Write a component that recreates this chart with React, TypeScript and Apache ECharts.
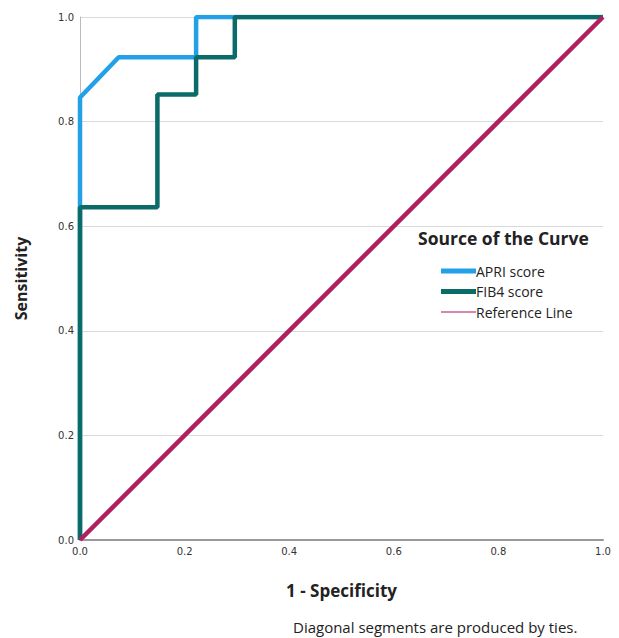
import React, { useEffect, useRef } from "react";
import * as echarts from "echarts";

const apriPoints: [number, number][] = [
  [0, 0], [0, 0.846], [0.074, 0.923], [0.222, 0.923], [0.222, 1.0], [1.0, 1.0],
];
const fib4Points: [number, number][] = [
  [0, 0], [0, 0.636], [0.148, 0.636], [0.148, 0.852], [0.222, 0.852], [0.222, 0.923],
  [0.296, 0.923], [0.296, 1.0], [1.0, 1.0],
];
const referencePoints: [number, number][] = [[0, 0], [1, 1]];
const seriesNames = ["APRI score", "FIB4 score", "Reference Line"];

const FONT = "'Open Sans', 'Noto Sans', sans-serif";

export default function App() {
  const ref = useRef<HTMLDivElement>(null);
  useEffect(() => {
    if (!ref.current) return;
    const chart = echarts.init(ref.current, null, { renderer: "svg" });
    chart.setOption({
      animation: false,
      backgroundColor: "#ffffff",
      grid: { left: 80, right: 16, top: 17, bottom: 98, containLabel: false },
      xAxis: {
        type: "value", min: 0, max: 1, interval: 0.2,
        name: "1 - Specificity", nameLocation: "middle", nameGap: 42,
        nameTextStyle: { fontFamily: FONT, fontWeight: "bold", fontSize: 17, color: "#222" },
        axisLine: { show: true, lineStyle: { color: "#999", width: 2 } },
        axisTick: { show: false },
        splitLine: { show: false },
        axisLabel: { formatter: (v: number) => v.toFixed(1), fontFamily: "'DejaVu Sans', sans-serif", fontSize: 10, color: "#333", margin: 6 },
      },
      yAxis: {
        type: "value", min: 0, max: 1, interval: 0.2,
        name: "Sensitivity", nameLocation: "middle", nameGap: 51, nameRotate: 90,
        nameTextStyle: { fontFamily: FONT, fontWeight: "bold", fontSize: 16, color: "#222" },
        axisLine: { show: true, lineStyle: { color: "#bbb", width: 1 } },
        axisTick: { show: false },
        splitLine: { show: true, lineStyle: { color: "#d9d9d9", width: 1 } },
        axisLabel: { formatter: (v: number) => v.toFixed(1), fontFamily: "'DejaVu Sans', sans-serif", fontSize: 10, color: "#333", margin: 6 },
      },
      legend: {
        orient: "vertical", left: 436, top: 259, itemGap: 6.5, itemWidth: 35, itemHeight: 17,
        data: [
          { name: seriesNames[0], icon: "path://M0,0 L35,0 L35,5 L0,5 Z" },
          { name: seriesNames[1], icon: "path://M0,0 L35,0 L35,5 L0,5 Z" },
          { name: seriesNames[2], icon: "path://M0,0 L35,0 L35,1.5 L0,1.5 Z", itemStyle: { color: "#c86090" } },
        ],
        textStyle: { fontFamily: FONT, fontSize: 14, color: "#222", padding: [0, 0, 0, -5] },
      },
      graphic: [
        { type: "text", left: 418, top: 229, style: { text: "Source of the Curve", font: `bold 17.5px ${FONT}`, fill: "#222" } },
        { type: "text", left: 293, top: 619, style: { text: "Diagonal segments are produced by ties.", font: `15px ${FONT}`, fill: "#222" } },
      ],
      series: [
        { name: seriesNames[0], type: "line", data: apriPoints, symbol: "none", lineStyle: { color: "#22a0e8", width: 4.5 }, itemStyle: { color: "#22a0e8" }, z: 2 },
        { name: seriesNames[1], type: "line", data: fib4Points, symbol: "none", lineStyle: { color: "#0a6b68", width: 4.5 }, itemStyle: { color: "#0a6b68" }, z: 3 },
        { name: seriesNames[2], type: "line", data: referencePoints, symbol: "none", lineStyle: { color: "#b0205e", width: 4.5 }, itemStyle: { color: "#b0205e" }, z: 4 },
      ],
    });
    return () => chart.dispose();
  }, []);
  return <div ref={ref} style={{ width: 619, height: 638, position: "absolute", left: 0, top: 0 }} />;
}
